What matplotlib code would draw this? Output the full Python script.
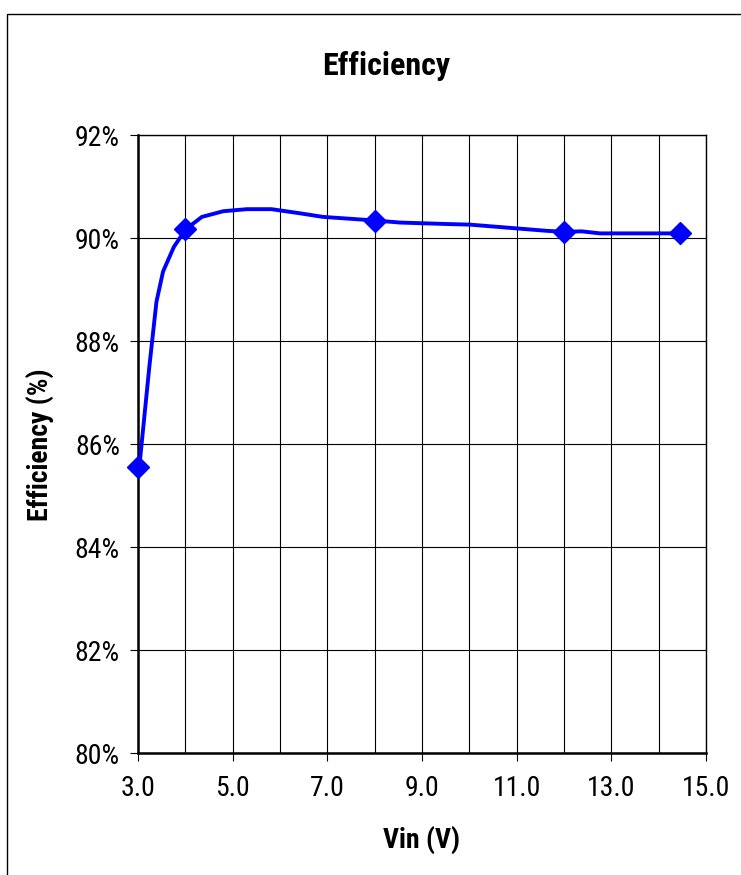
import matplotlib
matplotlib.use("Agg")
import matplotlib.pyplot as plt
from matplotlib.patches import Rectangle
from matplotlib.ticker import FuncFormatter, MultipleLocator

plt.rcParams["font.family"] = ["Liberation Sans Narrow", "Roboto Condensed", "Archivo Narrow",
                               "Encode Sans Semi Condensed", "DejaVu Sans"]

# measured points (markers)
vin_points = [3.0, 4.0, 8.0, 12.0, 14.45]
eff_points = [85.55, 90.17, 90.34, 90.12, 90.09]

# smoothed curve as drawn
vin_curve = [3.03, 3.24, 3.39, 3.53, 3.76, 4.01, 4.35, 4.80, 5.30, 5.82, 6.42,
             6.91, 8.01, 8.54, 9.59, 10.01, 11.63, 12.02, 12.37, 12.76, 14.45]
eff_curve = [85.57, 87.50, 88.76, 89.35, 89.83, 90.17, 90.41, 90.52, 90.56, 90.56, 90.48,
             90.41, 90.34, 90.30, 90.27, 90.26, 90.14, 90.12, 90.13, 90.09, 90.09]

x_ticks = [3.0, 5.0, 7.0, 9.0, 11.0, 13.0, 15.0]
y_ticks = [80, 82, 84, 86, 88, 90, 92]

fig = plt.figure(figsize=(7.41, 8.75), dpi=100)
ax = fig.add_axes([0.1862, 0.1394, 0.7666, 0.7063])

ax.plot(vin_curve, eff_curve, color="#0000ff", lw=2.8, zorder=3)
ax.plot(vin_points, eff_points, ls="none", marker="D", ms=11, color="#0000ff",
        zorder=4, clip_on=False)

ax.set_xlim(3.0, 15.0)
ax.set_ylim(80, 92)
ax.set_xticks(x_ticks)
ax.set_yticks(y_ticks)
ax.xaxis.set_minor_locator(MultipleLocator(1.0))
ax.xaxis.set_major_formatter(FuncFormatter(lambda v, _: f"{v:.1f}"))
ax.yaxis.set_major_formatter(FuncFormatter(lambda v, _: f"{v:.0f}%"))
ax.grid(True, which="both", axis="x", color="black", lw=0.8)
ax.grid(True, which="major", axis="y", color="black", lw=0.8)
ax.tick_params(axis="both", which="major", direction="out", length=6, width=0.8,
               labelsize=20)
ax.tick_params(axis="y", pad=7)
ax.tick_params(axis="x", pad=10)
ax.tick_params(axis="x", which="minor", length=0)
for side in ("left", "bottom"):
    ax.spines[side].set_linewidth(1.8)
for side in ("top", "right"):
    ax.spines[side].set_linewidth(1.0)

fig.text(0.521, 0.9246, "Efficiency", ha="center", va="center", fontsize=23, fontweight="bold")
fig.text(0.054, 0.492, "Efficiency (%)", ha="center", va="center", rotation=90,
         fontsize=20, fontweight="bold")
fig.text(0.569, 0.040, "Vin (V)", ha="center", va="center", fontsize=20, fontweight="bold")

fig.patches.append(Rectangle((0.0094, -0.2), 1.2, 1.184, transform=fig.transFigure,
                             fill=False, edgecolor="black", lw=1.0))

fig.savefig("out.png", dpi=100)
